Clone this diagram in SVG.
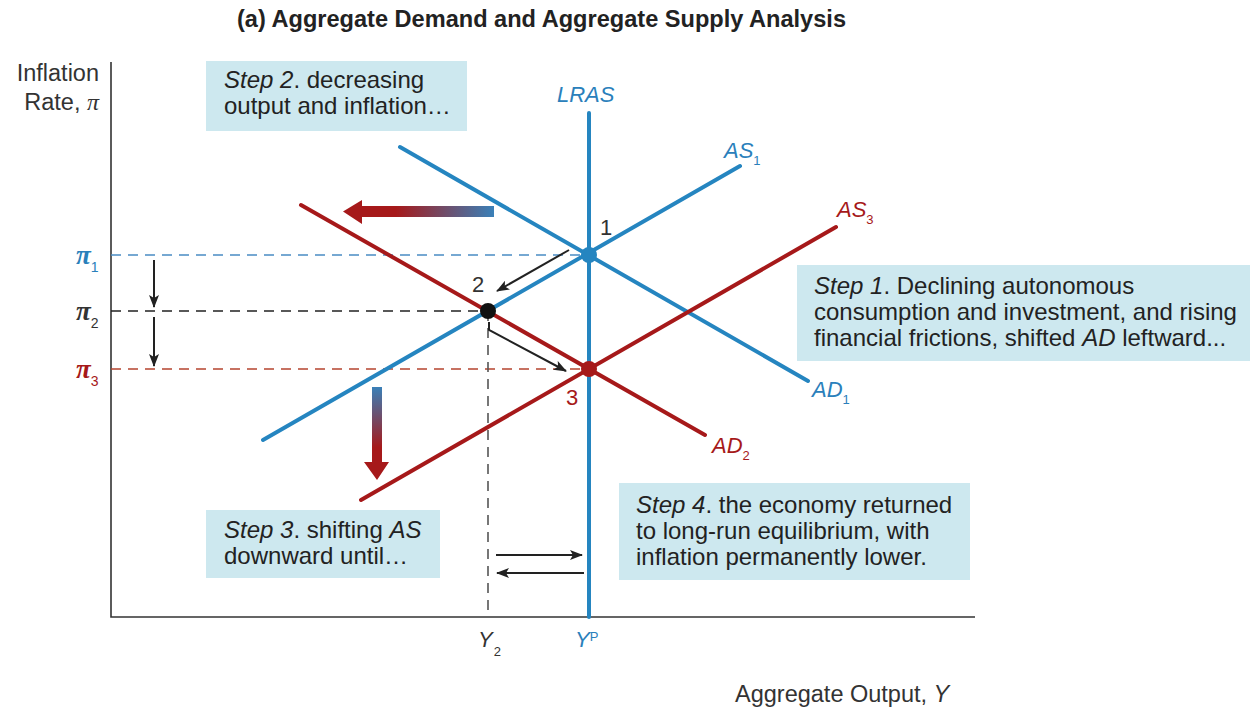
<svg xmlns="http://www.w3.org/2000/svg" width="1253" height="708" viewBox="0 0 1253 708">
<style>
  text { font-family: "Liberation Sans", Arial, sans-serif; fill: #222; }
  .title { font-weight: bold; font-size: 23px; }
  .lbl { font-size: 22px; fill: #333; }
  .ax { font-size: 23.5px; fill: #333; }
  .box { fill: #cde8ef; }
  .bt { font-size: 24px; fill: #222; }
  .it { font-style: italic; }
  .blue { stroke: #2585c0; stroke-width: 4; fill: none; stroke-linecap: round; }
  .red { stroke: #a6191a; stroke-width: 4; fill: none; stroke-linecap: round; }
  .axis { stroke: #333; stroke-width: 1.6; fill: none; }
  .dash { stroke-width: 1.6; stroke-dasharray: 10 7; fill: none; }
  .arr { stroke: #222; stroke-width: 2; fill: none; marker-end: url(#ah); }
  .pi { font-family: "Liberation Serif", "Times New Roman", serif; font-style: italic; font-weight: bold; font-size: 27px; }
  .sub { font-size: 13px; font-style: normal; }
  .psub { font-size: 14px; font-weight: normal; font-style: normal; font-family: "Liberation Sans", Arial, sans-serif; }
  .tb { fill: #2a80bb; }
  .tr { fill: #a6191a; }
</style>
<defs>
  <marker id="ah" viewBox="0 0 13 10" refX="12" refY="5" markerWidth="13" markerHeight="10" markerUnits="userSpaceOnUse" orient="auto">
    <path d="M0,0 L13,5 L0,10 L3,5 Z" fill="#222"/>
  </marker>
  <linearGradient id="gh" x1="343" y1="0" x2="494" y2="0" gradientUnits="userSpaceOnUse">
    <stop offset="0" stop-color="#a6191a"/>
    <stop offset="0.35" stop-color="#a6191a"/>
    <stop offset="1" stop-color="#3a80b8"/>
  </linearGradient>
  <linearGradient id="gv" x1="0" y1="387" x2="0" y2="480" gradientUnits="userSpaceOnUse">
    <stop offset="0" stop-color="#3a80b8"/>
    <stop offset="0.65" stop-color="#a6191a"/>
    <stop offset="1" stop-color="#a6191a"/>
  </linearGradient>
</defs>

<rect width="1253" height="708" fill="#fff"/>

<text class="title" x="237" y="27" textLength="609" lengthAdjust="spacingAndGlyphs">(a) Aggregate Demand and Aggregate Supply Analysis</text>

<!-- axes -->
<g id="axes">
  <path class="axis" d="M111,62 V617 H975"/>
  <text class="ax" x="99" y="81" text-anchor="end">Inflation</text>
  <text class="ax" x="99" y="110" text-anchor="end">Rate, <tspan style="font-family:'Liberation Serif',serif;font-style:italic;font-size:24px">π</tspan></text>
  <text class="ax" x="735" y="702">Aggregate Output, <tspan class="it">Y</tspan></text>
</g>

<!-- step boxes -->
<g id="step2">
  <rect class="box" x="206" y="61" width="261" height="70"/>
  <text class="bt" x="224" y="88"><tspan class="it">Step 2</tspan>. decreasing</text>
  <text class="bt" x="224" y="114">output and inflation…</text>
</g>
<g id="step1">
  <rect class="box" x="797" y="265" width="453" height="96"/>
  <text class="bt" x="814" y="294"><tspan class="it">Step 1</tspan>. Declining autonomous</text>
  <text class="bt" x="814" y="320">consumption and investment, and rising</text>
  <text class="bt" x="814" y="346">financial frictions, shifted <tspan class="it">AD</tspan> leftward...</text>
</g>
<g id="step3">
  <rect class="box" x="206" y="510" width="234" height="68"/>
  <text class="bt" x="224" y="538"><tspan class="it">Step 3</tspan>. shifting <tspan class="it">AS</tspan></text>
  <text class="bt" x="224" y="564">downward until…</text>
</g>
<g id="step4">
  <rect class="box" x="619" y="483" width="351" height="97"/>
  <text class="bt" x="636" y="513"><tspan class="it">Step 4</tspan>. the economy returned</text>
  <text class="bt" x="636" y="539">to long-run equilibrium, with</text>
  <text class="bt" x="636" y="565">inflation permanently lower.</text>
</g>

<!-- guide dashes -->
<g id="guides">
  <line class="dash" x1="111" y1="255" x2="589" y2="255" stroke="#4a8cc4"/>
  <line class="dash" x1="111" y1="311" x2="488" y2="311" stroke="#222"/>
  <line class="dash" x1="111" y1="369" x2="589" y2="369" stroke="#b5442f"/>
  <line class="dash" x1="488" y1="311" x2="488" y2="617" stroke="#555"/>
</g>

<!-- curves -->
<g id="curves">
  <line class="blue" x1="589" y1="113" x2="589" y2="617"/>
  <line class="blue" x1="263" y1="440" x2="740" y2="166"/>
  <line class="blue" x1="400" y1="147" x2="808" y2="381"/>
  <line class="red" x1="301" y1="205" x2="705" y2="435"/>
  <line class="red" x1="361" y1="500" x2="836" y2="227"/>
</g>

<!-- connectors -->
<g id="connectors">
  <line class="arr" x1="154" y1="260" x2="154" y2="307"/>
  <line class="arr" x1="154" y1="317" x2="154" y2="366"/>
  <line class="arr" x1="569" y1="250" x2="497" y2="291"/>
  <polyline class="arr" points="489,322 489,330 566,371"/>
  <line class="arr" x1="496" y1="555" x2="582" y2="555"/>
  <line class="arr" x1="584" y1="573" x2="497" y2="573"/>
  <path d="M494,206 V217 H362 V224 L343,211.5 L362,200 V206 Z" fill="url(#gh)"/>
  <path d="M372,387 H382 V462 H389 L377,480 L364,462 H372 Z" fill="url(#gv)"/>
</g>

<!-- equilibrium points -->
<g id="point1">
  <circle cx="589" cy="255" r="8" fill="#2585c0"/>
  <text class="lbl" x="600" y="235">1</text>
</g>
<g id="point2">
  <circle cx="488" cy="311" r="8" fill="#111"/>
  <text class="lbl" x="472" y="292">2</text>
</g>
<g id="point3">
  <circle cx="589" cy="369" r="8" fill="#a6191a"/>
  <text class="lbl tr" x="566" y="405">3</text>
</g>

<!-- curve labels -->
<g id="labels">
  <text class="lbl tb it" x="557" y="102">LRAS</text>
  <text class="lbl tb it" x="724" y="158">AS<tspan class="sub" dy="7">1</tspan></text>
  <text class="lbl tr it" x="837" y="217">AS<tspan class="sub" dy="7">3</tspan></text>
  <text class="lbl tb it" x="812" y="397">AD<tspan class="sub" dy="7">1</tspan></text>
  <text class="lbl tr it" x="712" y="453">AD<tspan class="sub" dy="7">2</tspan></text>
  <text class="lbl it" x="478" y="647">Y<tspan class="sub" dy="9" dx="1">2</tspan></text>
  <text class="lbl tb it" x="575" y="647">Y<tspan class="sub" dy="-6">P</tspan></text>
  <text class="pi tb" x="76" y="264">π<tspan class="psub" dy="8">1</tspan></text>
  <text class="pi" x="76" y="320" style="fill:#333">π<tspan class="psub" dy="8">2</tspan></text>
  <text class="pi tr" x="76" y="378">π<tspan class="psub" dy="8">3</tspan></text>
</g>
</svg>
